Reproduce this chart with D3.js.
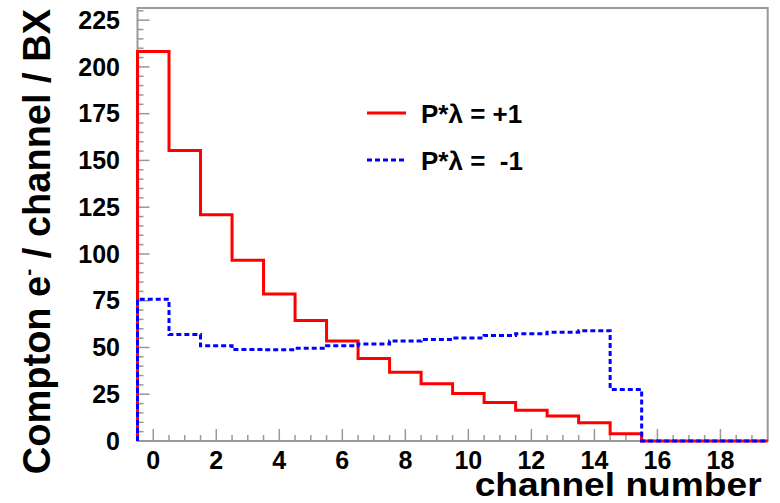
<!doctype html>
<html lang=en>

<head>
  <meta charset=utf-8>
  <title>Compton e- per channel</title>
  <style>
    body { margin: 0; background: white; }
    svg { display: block; }
    text { font-family: "Liberation Sans", Arial, Helvetica, sans-serif; font-weight: bold; fill: black; }
  </style>
</head>

<body>
  <svg></svg>
  <script src="https://d3js.org/d3.v7.min.js"></script>
  <script>
    var width = 780;
    var height = 503;

    // channel numbers 0..19
    var channels = d3.range(0, 20);
    // P*lambda = +1
    var plusValues = [208.3, 155.3, 121.0, 96.6, 78.6, 64.4, 53.4, 44.1, 36.8, 30.6,
      25.4, 20.6, 16.5, 13.3, 9.8, 3.9, 0, 0, 0, 0];
    // P*lambda = -1
    var minusValues = [75.8, 56.9, 50.9, 48.9, 48.8, 49.6, 50.9, 51.9, 53.4, 54.3,
      55.1, 56.4, 57.3, 58.2, 58.9, 27.6, 0, 0, 0, 0];

    var xTickLabels = [0, 2, 4, 6, 8, 10, 12, 14, 16, 18];
    var yTickLabels = [0, 25, 50, 75, 100, 125, 150, 175, 200, 225];
    var legendLabels = ["P*\u03bb = +1", "P*\u03bb =  -1"];

    var padL = 137.5, padR = 767.7, padT = 8, padB = 441;
    var frameColor = "#999";

    var svg = d3.select("svg")
      .attr("width", width)
      .attr("height", height);

    var x = d3.scaleLinear().domain([-0.5, 19.5]).range([padL, padR]);
    var y = d3.scaleLinear().domain([0, 231.5]).range([padB, padT]);

    // frame
    svg.append("rect")
      .attr("x", padL).attr("y", padT)
      .attr("width", padR - padL).attr("height", padB - padT)
      .attr("fill", "none")
      .attr("stroke", frameColor)
      .attr("stroke-width", 2);

    // y ticks (inward), major every 25, minor every 5
    var yMinor = d3.range(0, 231, 5);
    svg.append("g").selectAll("line")
      .data(yMinor)
      .join("line")
      .attr("x1", padL).attr("x2", function (d) { return padL + (d % 25 === 0 ? 12 : 6); })
      .attr("y1", function (d) { return y(d); }).attr("y2", function (d) { return y(d); })
      .attr("stroke", frameColor).attr("stroke-width", 1.5);

    svg.append("g").selectAll("text")
      .data(yTickLabels)
      .join("text")
      .attr("x", 120)
      .attr("y", function (d) { return y(d); })
      .attr("dy", "0.35em")
      .attr("text-anchor", "end")
      .style("font-size", "25px")
      .text(function (d) { return d; });

    // x ticks, major every 2, minor every 0.5
    var xMinor = d3.range(0, 39).map(function (i) { return i * 0.5; });
    svg.append("g").selectAll("line")
      .data(xMinor)
      .join("line")
      .attr("x1", function (d) { return x(d); }).attr("x2", function (d) { return x(d); })
      .attr("y1", padB).attr("y2", function (d) { return padB - (d % 2 === 0 ? 12 : 6); })
      .attr("stroke", frameColor).attr("stroke-width", 1.5);

    svg.append("g").selectAll("text")
      .data(xTickLabels)
      .join("text")
      .attr("x", function (d) { return x(d); })
      .attr("y", 469)
      .attr("text-anchor", "middle")
      .style("font-size", "25px")
      .text(function (d) { return d; });

    // axis titles
    svg.append("text")
      .attr("x", padR - 6)
      .attr("y", 496)
      .attr("text-anchor", "end")
      .attr("textLength", 287)
      .attr("lengthAdjust", "spacingAndGlyphs")
      .style("font-size", "33px")
      .text("channel number");

    var yt = svg.append("text")
      .attr("transform", "translate(50," + (padT + 1) + ") rotate(-90)")
      .attr("text-anchor", "end")
      .style("font-size", "38px");
    yt.append("tspan").text("Compton e");
    yt.append("tspan").attr("dy", -15).style("font-size", "21px").text("-");
    yt.append("tspan").attr("dy", 15).text(" / channel / BX");

    // histogram outline
    function histPoints(values) {
      var pts = [[-0.5, 0]];
      values.forEach(function (v, i) {
        pts.push([channels[i] - 0.5, v]);
        pts.push([channels[i] + 0.5, v]);
      });
      pts.push([channels[channels.length - 1] + 0.5, 0]);
      return pts;
    }

    var line = d3.line()
      .x(function (d) { return x(d[0]); })
      .y(function (d) { return y(d[1]); });

    svg.append("path")
      .attr("d", line(histPoints(plusValues)))
      .attr("fill", "none")
      .attr("stroke", "#ff0000")
      .attr("stroke-width", 3);

    svg.append("path")
      .attr("d", line(histPoints(minusValues)))
      .attr("fill", "none")
      .attr("stroke", "#0000ff")
      .attr("stroke-width", 3)
      .attr("stroke-dasharray", "5,3");

    // legend
    var legend = svg.append("g");
    var legendStyles = [
      { color: "#ff0000", dash: null, y: 113 },
      { color: "#0000ff", dash: "5,3", y: 160 }
    ];
    legendStyles.forEach(function (s, i) {
      legend.append("line")
        .attr("x1", 367).attr("x2", 406)
        .attr("y1", s.y).attr("y2", s.y)
        .attr("stroke", s.color).attr("stroke-width", 3)
        .attr("stroke-dasharray", s.dash);
      legend.append("text")
        .attr("x", 421)
        .attr("y", s.y + 10)
        .attr("xml:space", "preserve")
        .style("white-space", "pre")
        .style("font-size", "26px")
        .text(legendLabels[i]);
    });
  </script>
</body>

</html>
